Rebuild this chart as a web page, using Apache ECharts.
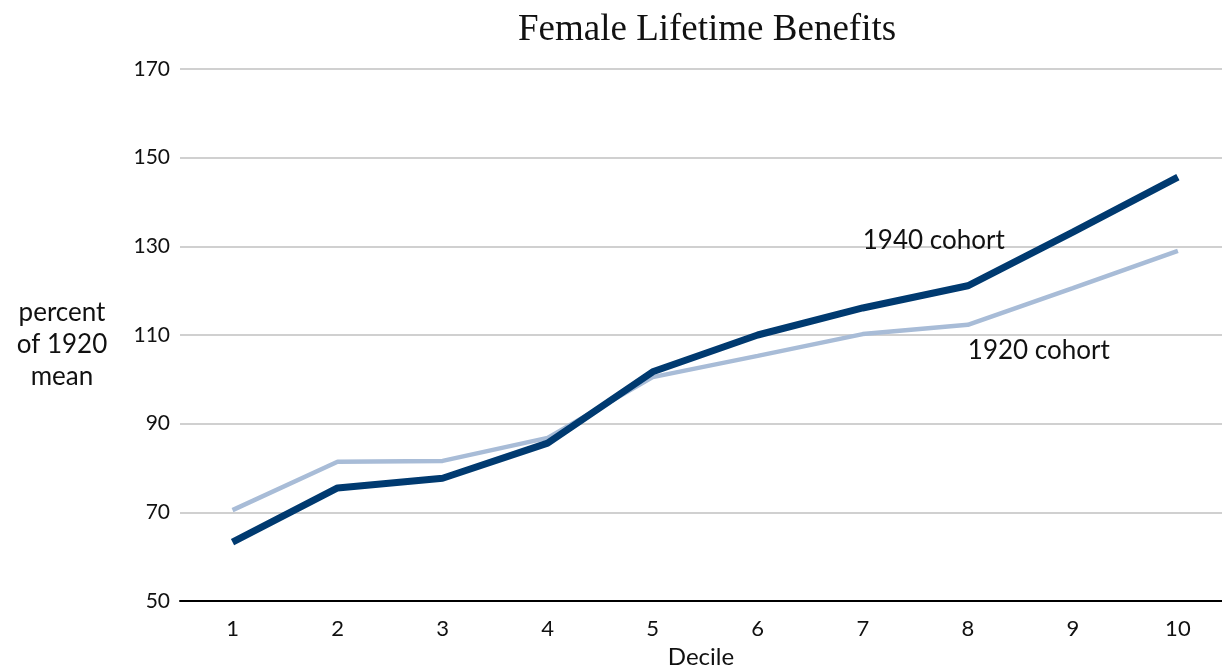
<!DOCTYPE html>
<html><head><meta charset="utf-8">
<script src="https://cdn.jsdelivr.net/npm/echarts@6/dist/echarts.min.js"></script>
<style>html,body{margin:0;padding:0;background:#fff}#c{width:1222px;height:671px}</style>
</head><body><div id="c"></div>
<script>
const deciles = [1,2,3,4,5,6,7,8,9,10];
const cohort1940 = [63.3,75.5,77.7,85.6,101.7,110.0,116.1,121.1,133.2,145.6];
const cohort1920 = [70.5,81.4,81.6,86.8,100.5,105.3,110.2,112.3,120.6,129.0];
const yTicks = [50,70,90,110,130,150,170];
const label1940 = {text:'1940 cohort', at:[7,131.4]};
const label1920 = {text:'1920 cohort', at:[8,106.4]};

const sans = 'Lato, "Open Sans", sans-serif';
const chart = echarts.init(document.getElementById('c'));
function mp(lbl){
  return {symbol:'circle',symbolSize:0,silent:true,data:[{coord:lbl.at,value:lbl.text}],
    label:{show:true,formatter:lbl.text,position:'right',distance:0,fontFamily:sans,fontSize:26,color:'#111'}};
}
chart.setOption({
  animation:false,
  title:{text:'Female Lifetime Benefits',left:513,top:7,
    textStyle:{fontFamily:'"Liberation Serif", serif',fontWeight:'normal',fontSize:37,color:'#111'}},
  graphic:[{type:'text',x:62,y:297,style:{text:'percent\nof 1920\nmean',fontFamily:sans,fontSize:26,lineHeight:32,fill:'#111',textAlign:'center'}}],
  grid:{left:180,right:0,top:69,bottom:70,containLabel:false,outerBoundsMode:'none'},
  xAxis:{type:'value',min:0.5,max:10.42,interval:0.5,
    name:'Decile',nameLocation:'middle',nameGap:44,nameTextStyle:{fontFamily:sans,fontSize:24,color:'#111'},
    axisLine:{lineStyle:{color:'#000',width:2}},axisTick:{show:false},splitLine:{show:false},
    axisLabel:{fontFamily:sans,fontSize:22,color:'#111',margin:17,showMinLabel:true,showMaxLabel:false,
      formatter:v=>deciles.includes(v)?String(v):''}},
  yAxis:{type:'value',min:50,max:170,interval:20,
    axisLine:{show:false},axisTick:{show:false},
    splitLine:{lineStyle:{color:'#d0d0d0',width:2}},
    axisLabel:{fontFamily:sans,fontSize:21,color:'#111',margin:10,
      formatter:v=>yTicks.includes(v)?String(v):''}},
  series:[
    {type:'line',name:'1920 cohort',data:deciles.map((d,i)=>[d,cohort1920[i]]),symbol:'none',
      lineStyle:{color:'#a8bcd7',width:4.5},z:2,markPoint:mp(label1920)},
    {type:'line',name:'1940 cohort',data:deciles.map((d,i)=>[d,cohort1940[i]]),symbol:'none',
      lineStyle:{color:'#003a70',width:7},z:3,markPoint:mp(label1940)}
  ]
});
</script></body></html>
